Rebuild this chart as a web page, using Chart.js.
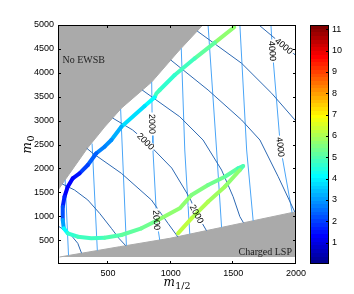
<!DOCTYPE html>
<html><head><meta charset="utf-8">
<script src="https://cdn.jsdelivr.net/npm/chart.js@4.4.1/dist/chart.umd.min.js"></script>
<style>
html,body{margin:0;padding:0;background:#fff;}
#wrap{position:relative;width:354px;height:294px;overflow:hidden;}
#main{position:absolute;left:0;top:0;}
#cbar{position:absolute;left:300px;top:0;}
</style></head><body>
<div id="wrap"><canvas id="main" width="354" height="294"></canvas><canvas id="cbar" width="54" height="294"></canvas></div>
<script>
// ---------- tick labels ----------
const xTickValues = [500, 1000, 1500, 2000];
const yTickValues = [500, 1000, 1500, 2000, 2500, 3000, 3500, 4000, 4500, 5000];
const cbTickValues = [1, 2, 3, 4, 5, 6, 7, 8, 9, 10, 11];
const cbMin = 0, cbMax = 11.2;

// ---------- thick coloured trajectory ----------
const curveM12 = [1506,1352,1192,1032,912,886,872,792,606,526,472,406,338,272,218,178,152,138,138,146,178,258,366,472,606,766,898,1072,1166,1298,1432,1538,1578,1552,1432,1298,1166,1058];
const curveM0  = [4952,4630,4303,3954,3640,3571,3487,3305,2872,2594,2454,2316,2071,1897,1793,1617,1408,1199,920,747,642,571,538,550,607,747,920,1165,1443,1653,1826,2002,2050,1966,1617,1303,956,642];
const curveVal = [5.8,5.4,5.0,4.7,4.5,5.2,4.3,4.1,3.4,3.0,2.8,2.6,2.2,1.7,1.3,1.2,1.5,1.9,2.5,3.6,4.6,4.8,4.8,4.9,5.1,5.3,5.5,5.7,5.6,5.5,5.3,5.0,4.7,5.4,5.8,6.0,6.2,6.3];

// ---------- excluded regions (boundaries) ----------
const noEwsbM12 = [100,336,472,608,848,1056,1256];
const noEwsbM0  = [1548,2427,2866,3264,3807,4435,5000];
const chargedLspM12 = [112,592,992,2000];
const chargedLspM0  = [146,362,537,1094];
const chargedLspFloor = 146;

// ---------- dark contours (arcs) [m12, m0] ----------
const arcA = [[100,795],[192,642],[258,433],[288,225]];
const arcB = [[134,1674],[232,1548],[338,1339],[432,1061],[526,747],[586,538],[640,385]];
const arcC = [[330,2420],[378,2316],[606,1897],[846,1339],[978,851],[1056,570]];
const arcD = [[536,3054],[696,2803],[800,2568],[1008,2008],[1152,1381],[1208,1046],[1285,700]];
const arcE = [[772,3640],[1072,3081],[1258,2594],[1406,1966],[1498,1408],[1552,990],[1580,866]];
const arcF = [[1000,4268],[1298,3640],[1566,3012],[1712,2594],[1858,1826],[1990,1090]];
const arcG = [[1211,4874],[1566,4199],[1806,3571],[1992,3012],[2000,2990]];
const arcH = [[1704,5000],[1904,4561],[1978,4408],[2000,4362]];

// ---------- light contours (near vertical) [m12, m0] ----------
const lineL1 = [[157,1760],[184,180]];
const lineL2 = [[372,2520],[414,282]];
const lineL3 = [[600,3240],[646,386]];
const lineL4 = [[848,3807],[852,2929],[858,2385],[888,920],[912,502]];
const lineL5 = [[1084,4514],[1112,2385],[1152,625]];
const lineL6 = [[1298,5000],[1366,2385],[1406,766]];
const lineL7 = [[1552,5000],[1606,2385],[1658,905]];
const lineL8 = [[1800,5000],[1812,4456],[1876,2448],[1969,1076]];

const darkLines = [arcA, arcB, arcC, arcD, arcE, arcF, arcG, arcH];
const lightLines = [lineL1, lineL2, lineL3, lineL4, lineL5, lineL6, lineL7, lineL8];

// contour labels: attached to a vertex of a contour
const contourLabels = [
  {line: lineL4, at: 1, text: '2000'},
  {line: lineL4, at: 3, text: '2000'},
  {line: arcD, at: 2, text: '2000'},
  {line: arcD, at: 5, text: '2000'},
  {line: lineL8, at: 1, text: '4000'},
  {line: lineL8, at: 2, text: '4000'},
  {line: arcH, at: 1, text: '4000'}
];
const regionLabels = [
  {text: 'No EWSB', m12: 136, m0: 4268, align: 'left'},
  {text: 'Charged LSP', m12: 1968, m0: 251, align: 'right'}
];

// ---------- colour map (MATLAB jet, 64 levels) ----------
function jet(i) {
  const t = (i + 1) / 64;
  const c = v => Math.round(255 * Math.max(0, Math.min(1, v)));
  return `rgb(${c(1.5 - Math.abs(4*t - 3))},${c(1.5 - Math.abs(4*t - 2))},${c(1.5 - Math.abs(4*t - 1))})`;
}
function colorFor(v) {
  const i = Math.max(0, Math.min(63, Math.floor((v - cbMin) / (cbMax - cbMin) * 64)));
  return jet(i);
}
const toPts = a => a.map(([x, y]) => ({x, y}));

const DARK = '#2d69b3', LIGHT = '#4aa5f7', GRAY = '#aaaaaa';

const datasets = [];
datasets.push({
  data: curveM12.map((x, i) => ({x, y: curveM0[i]})),
  borderWidth: 4, borderCapStyle: 'round', borderJoinStyle: 'round',
  borderColor: colorFor(curveVal[0]),
  segment: {borderColor: c => colorFor((curveVal[c.p0DataIndex] + curveVal[c.p1DataIndex]) / 2)},
  pointRadius: 0, tension: 0, fill: false, order: 0
});
darkLines.forEach(l => datasets.push({data: toPts(l), borderColor: DARK, borderWidth: 1, pointRadius: 0, fill: false, order: 1}));
lightLines.forEach(l => datasets.push({data: toPts(l), borderColor: LIGHT, borderWidth: 1, pointRadius: 0, fill: false, order: 1}));
datasets.push({data: noEwsbM12.map((x, i) => ({x, y: noEwsbM0[i]})), borderColor: GRAY, backgroundColor: GRAY, borderWidth: 1, pointRadius: 0, fill: 'end', order: 2});
datasets.push({data: chargedLspM12.map((x, i) => ({x, y: chargedLspM0[i]})), borderColor: GRAY, backgroundColor: GRAY, borderWidth: 1, pointRadius: 0, fill: {value: chargedLspFloor}, order: 2});

const TICKFONT = {family: '"Liberation Sans", Arial, sans-serif', size: 9};
const plain = v => String(v);

function labelGeom(chart, lab) {
  const {x, y} = chart.scales;
  const p = lab.line[lab.at], a = lab.line[lab.at - 1], b = lab.line[lab.at + 1];
  const px = x.getPixelForValue(p[0]), py = y.getPixelForValue(p[1]);
  let ang = Math.atan2(y.getPixelForValue(b[1]) - y.getPixelForValue(a[1]), x.getPixelForValue(b[0]) - x.getPixelForValue(a[0]));
  if (ang > Math.PI / 2) ang -= Math.PI;
  if (ang < -Math.PI / 2) ang += Math.PI;
  return {px, py, ang};
}

const decor = {
  id: 'decor',
  beforeDatasetDraw(chart, args) {
    if (args.index !== 0) return;
    const ctx = chart.ctx, a = chart.chartArea;
    ctx.save();
    ctx.beginPath(); ctx.rect(a.left, a.top, a.right - a.left, a.bottom - a.top); ctx.clip();
    ctx.font = '9px "Liberation Sans", Arial, sans-serif';
    contourLabels.forEach(lab => {
      const g = labelGeom(chart, lab);
      const w = ctx.measureText(lab.text).width;
      ctx.save(); ctx.translate(g.px, g.py); ctx.rotate(g.ang);
      ctx.fillStyle = '#fff'; ctx.fillRect(-w/2 - 1.5, -3.5, w + 3, 7);
      ctx.restore();
    });
    ctx.restore();
  },
  afterDatasetsDraw(chart) {
    const ctx = chart.ctx, a = chart.chartArea, {x, y} = chart.scales;
    ctx.save();
    ctx.font = '9px "Liberation Sans", Arial, sans-serif';
    ctx.fillStyle = '#000'; ctx.textAlign = 'center'; ctx.textBaseline = 'middle';
    contourLabels.forEach(lab => {
      const g = labelGeom(chart, lab);
      ctx.save(); ctx.translate(g.px, g.py); ctx.rotate(g.ang);
      ctx.fillText(lab.text, 0, 0.5);
      ctx.restore();
    });
    ctx.font = '10px "Liberation Serif", "Times New Roman", serif';
    ctx.fillStyle = '#222';
    regionLabels.forEach(r => {
      ctx.textAlign = r.align;
      ctx.fillText(r.text, x.getPixelForValue(r.m12), y.getPixelForValue(r.m0));
    });
    // box
    ctx.strokeStyle = '#000'; ctx.lineWidth = 1;
    ctx.strokeRect(a.left + 0.5, a.top + 0.5, a.right - a.left - 1, a.bottom - a.top - 1);
    ctx.beginPath();
    xTickValues.forEach(v => {
      const px = Math.round(x.getPixelForValue(v)) - 0.5;
      ctx.moveTo(px, a.bottom); ctx.lineTo(px, a.bottom - 3);
      ctx.moveTo(px, a.top); ctx.lineTo(px, a.top + 3);
    });
    yTickValues.forEach(v => {
      const py = Math.round(y.getPixelForValue(v)) + 0.5;
      ctx.moveTo(a.left, py); ctx.lineTo(a.left + 3, py);
      ctx.moveTo(a.right, py); ctx.lineTo(a.right - 3, py);
    });
    ctx.stroke();
    ctx.restore();
  },
  afterDraw(chart) {
    const ctx = chart.ctx, a = chart.chartArea;
    function drawMath(main, sub, cx, base) {
      ctx.font = 'italic 12px "DejaVu Serif", serif';
      const wm = ctx.measureText(main).width;
      ctx.font = '9.5px "DejaVu Serif", serif';
      const ws = ctx.measureText(sub).width;
      let sx = cx - (wm + 0.5 + ws) / 2;
      ctx.textAlign = 'left'; ctx.textBaseline = 'alphabetic'; ctx.fillStyle = '#000';
      ctx.font = 'italic 12px "DejaVu Serif", serif';
      ctx.fillText(main, sx, base);
      ctx.font = '9.5px "DejaVu Serif", serif';
      ctx.fillText(sub, sx + wm + 0.5, base + 3);
    }
    ctx.save();
    drawMath('m', '1/2', (a.left + a.right) / 2, 286);
    ctx.translate(31, (a.top + a.bottom) / 2);
    ctx.rotate(-Math.PI / 2);
    drawMath('m', '0', 0, 0);
    ctx.restore();
  }
};

new Chart(document.getElementById('main'), {
  type: 'line',
  data: {datasets},
  options: {
    responsive: false, animation: false, devicePixelRatio: 1,
    layout: {padding: {left: 0, top: 25, right: 58, bottom: 0}},
    plugins: {legend: {display: false}, tooltip: {enabled: false}},
    elements: {line: {tension: 0}},
    scales: {
      x: {
        type: 'linear', min: 100, max: 2000,
        afterBuildTicks: s => { s.ticks = xTickValues.map(v => ({value: v})); },
        afterFit: s => { s.height = 30; },
        grid: {display: false, drawTicks: false}, border: {display: false},
        ticks: {padding: 4, color: '#000', font: TICKFONT, maxRotation: 0, autoSkip: false, callback: plain}
      },
      y: {
        type: 'linear', min: 0, max: 5000,
        afterBuildTicks: s => { s.ticks = yTickValues.map(v => ({value: v})); },
        afterFit: s => { s.width = 58; },
        grid: {display: false, drawTicks: false}, border: {display: false},
        ticks: {padding: 4, color: '#000', font: TICKFONT, autoSkip: false, callback: plain}
      }
    }
  },
  plugins: [decor]
});

// ---------- colour bar ----------
const cbFrame = {
  id: 'cbFrame',
  afterDatasetsDraw(chart) {
    const ctx = chart.ctx, a = chart.chartArea, y = chart.scales.y;
    ctx.save();
    ctx.strokeStyle = '#000'; ctx.lineWidth = 1;
    ctx.strokeRect(a.left + 0.5, a.top + 0.5, a.right - a.left - 1, a.bottom - a.top - 1);
    ctx.beginPath();
    cbTickValues.forEach(v => {
      const py = Math.round(y.getPixelForValue(v)) + 0.5;
      ctx.moveTo(a.right, py); ctx.lineTo(a.right - 3, py);
    });
    ctx.stroke();
    ctx.restore();
  }
};
new Chart(document.getElementById('cbar'), {
  type: 'bar',
  data: {labels: ['c'], datasets: [{
    data: [[cbMin, cbMax]],
    barPercentage: 1, categoryPercentage: 1, borderWidth: 0,
    backgroundColor: c => {
      const ch = c.chart, y = ch.scales.y;
      if (!ch.chartArea || !y) return jet(32);
      const y0 = y.getPixelForValue(cbMin), y1 = y.getPixelForValue(cbMax);
      const g = ch.ctx.createLinearGradient(0, y0, 0, y1);
      for (let i = 0; i < 64; i++) { g.addColorStop(i / 64, jet(i)); g.addColorStop((i + 1) / 64, jet(i)); }
      return g;
    }
  }]},
  options: {
    responsive: false, animation: false, devicePixelRatio: 1,
    layout: {padding: {left: 10, top: 25, bottom: 30, right: 0}},
    plugins: {legend: {display: false}, tooltip: {enabled: false}},
    scales: {
      x: {display: false},
      y: {
        position: 'right', min: cbMin, max: cbMax,
        afterBuildTicks: s => { s.ticks = cbTickValues.map(v => ({value: v})); },
        afterFit: s => { s.width = 25; },
        grid: {display: false, drawTicks: false}, border: {display: false},
        ticks: {padding: 3, color: '#000', font: TICKFONT, autoSkip: false, callback: plain}
      }
    }
  },
  plugins: [cbFrame]
});
</script>
</body></html>
